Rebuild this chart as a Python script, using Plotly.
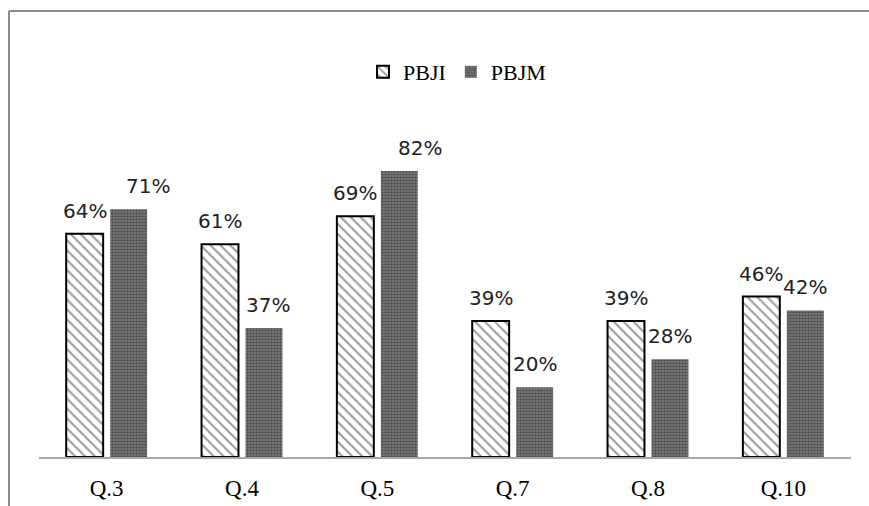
import plotly.graph_objects as go

categories = ["Q.3", "Q.4", "Q.5", "Q.7", "Q.8", "Q.10"]
pbji = [0.64, 0.61, 0.69, 0.39, 0.39, 0.46]
pbjm = [0.71, 0.37, 0.82, 0.20, 0.28, 0.42]
series_names = ["PBJI", "PBJM"]

W, H = 869, 506
L, R, B, T = 39, 18, 49, 143
plot_h = H - T - B

fig = go.Figure()
fig.add_trace(go.Bar(
    name=series_names[0], x=categories, y=pbji,
    marker=dict(color="white", line=dict(color="black", width=2),
                pattern=dict(shape="\\", fgcolor="#3a3a3a", bgcolor="white",
                             size=7, solidity=0.3)),
))
fig.add_trace(go.Bar(
    name=series_names[1], x=categories, y=pbjm,
    marker=dict(color="#555555", line=dict(width=0),
                pattern=dict(shape=".", fgcolor="#222222", bgcolor="#808080",
                             size=3, solidity=0.55)),
))

label_font = dict(family="DejaVu Sans", size=20, color="#222")
nudge = {("PBJM", "Q.3"): 19, ("PBJM", "Q.5"): 21, ("PBJM", "Q.4"): 4}
annotations = []
for name, vals, dx in [(series_names[0], pbji, -22), (series_names[1], pbjm, 22)]:
    for c, v in zip(categories, vals):
        annotations.append(dict(
            x=c, y=v, xref="x", yref="y", text=f"{round(v*100)}%",
            showarrow=False, xshift=dx + nudge.get((name, c), 0), yshift=23,
            font=label_font, xanchor="center", yanchor="middle"))

def py(pixel_y):
    return (H - B - pixel_y) / plot_h

def px(pixel_x):
    return (pixel_x - L) / (W - L - R)

shapes = [
    dict(type="line", xref="paper", yref="paper", x0=px(9), x1=px(W + 5),
         y0=py(11), y1=py(11), line=dict(color="#8a8a8a", width=2)),
    dict(type="line", xref="paper", yref="paper", x0=px(9), x1=px(9),
         y0=py(11), y1=py(H + 5), line=dict(color="#8a8a8a", width=2)),
]

fig.update_layout(
    width=W, height=H,
    margin=dict(l=L, r=R, t=T, b=B, autoexpand=False),
    paper_bgcolor="white", plot_bgcolor="white",
    barmode="group", bargap=0.35, bargroupgap=0.16,
    showlegend=True,
    legend=dict(orientation="h", x=px(457), xanchor="center", y=py(72), yanchor="middle",
                font=dict(family="Liberation Serif", size=22, color="black"),
                itemwidth=30, itemclick=False),
    xaxis=dict(showline=True, linecolor="#a8a8a8", linewidth=2, ticks="",
               tickfont=dict(family="Liberation Serif", size=23, color="black"),
               ticklabelstandoff=9, showgrid=False, zeroline=False, automargin=False),
    yaxis=dict(range=[0, 0.9], visible=False, showgrid=False, zeroline=False,
               automargin=False),
    annotations=annotations,
    shapes=shapes,
)

fig.write_html("out.html")
